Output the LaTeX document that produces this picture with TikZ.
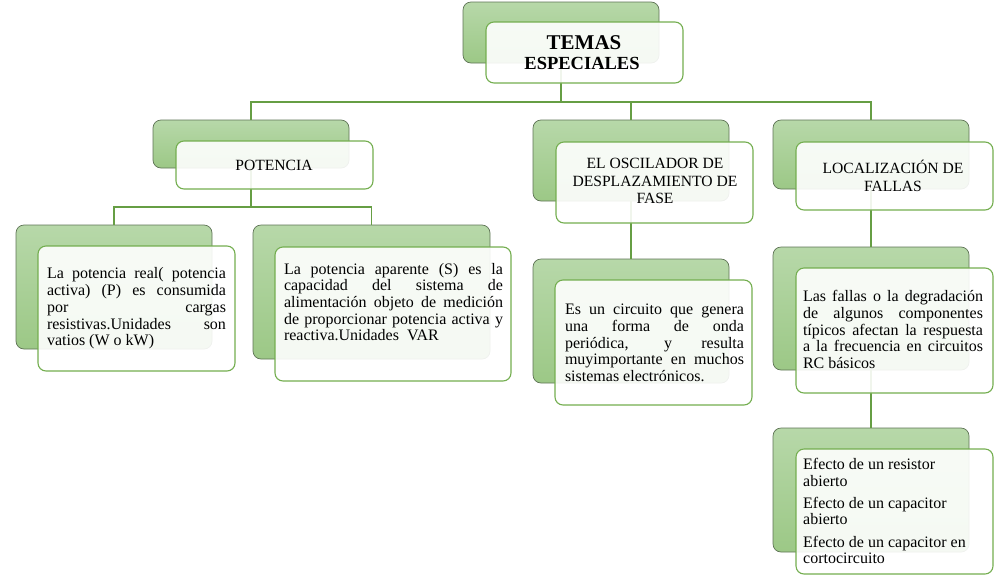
\documentclass[tikz,border=0pt]{standalone}
\usepackage{fontspec}
\setmainfont{Liberation Serif}
\usetikzlibrary{calc}
\definecolor{backtop}{HTML}{B7D8A9}
\definecolor{backbot}{HTML}{9CC886}
\definecolor{backline}{HTML}{5E7355}
\definecolor{frontline}{HTML}{74AE50}
\definecolor{connline}{HTML}{669E44}
\newcommand{\bodytextsetup}{\fontsize{16}{16.7}\selectfont\tolerance=10000\hbadness=10000\pretolerance=-1\hyphenpenalty=10000\exhyphenpenalty=10000}
\tikzset{
  backbox/.style={draw=backline, line width=0.7pt, rounded corners=8pt, top color=backtop, bottom color=backbot, inner sep=0pt, outer sep=0pt, anchor=north west},
  frontbox/.style={draw=frontline, line width=1.1pt, rounded corners=8pt, fill=white, fill opacity=0.9, inner sep=0pt, outer sep=0pt, anchor=north west},
  conn/.style={draw=connline, line width=1.1pt},
  bodytxt/.style={inner sep=0pt, align=justify, font=\bodytextsetup},
  headtxt/.style={inner sep=0pt, align=center, font=\fontsize{15.6}{17.3}\selectfont},
}
\begin{document}
\begin{tikzpicture}[x=1pt,y=-1pt]
\useasboundingbox (0,0) rectangle (1001,579);
% back boxes (nodes)
\node[backbox, minimum width=196pt, minimum height=61pt] (b0) at (463,2) {};
\node[backbox, minimum width=196pt, minimum height=48pt] (b1) at (153,120) {};
\node[backbox, minimum width=196pt, minimum height=124pt] (b11) at (16,225) {};
\node[backbox, minimum width=237pt, minimum height=134pt] (b12) at (253,225) {};
\node[backbox, minimum width=196pt, minimum height=81pt] (b2) at (533,120) {};
\node[backbox, minimum width=196pt, minimum height=124pt] (b21) at (533,259) {};
\node[backbox, minimum width=196pt, minimum height=69pt] (b3) at (773,120) {};
\node[backbox, minimum width=196pt, minimum height=123pt] (b31) at (773,247) {};
\node[backbox, minimum width=196pt, minimum height=124pt] (b32) at (773,428) {};
% connectors
\coordinate (j0) at (562,102);
\coordinate (j1) at (252,207);
\draw[conn] (b0.south) -- (b0.south |- j0);
\draw[conn] (b0.south |- j0) -| (b1.north);
\draw[conn] (b0.south |- j0) -| (b2.north);
\draw[conn] (b0.south |- j0) -| (b3.north);
\draw[conn] (b1.south) -- (b1.south |- j1);
\draw[conn] (b1.south |- j1) -| (b11.north);
\draw[conn] (b1.south |- j1) -| (b12.north);
\draw[conn] (b2.south) -- (b21.north);
\draw[conn] (b3.south) -- (b31.north);
\draw[conn] (b31.south) -- (b32.north);
% front boxes
\node[frontbox, minimum width=197pt, minimum height=61pt] (f0) at (486,22) {};
\node[frontbox, minimum width=197pt, minimum height=48pt] (f1) at (176,141) {};
\node[frontbox, minimum width=197pt, minimum height=125pt] (f11) at (38,246) {};
\node[frontbox, minimum width=236pt, minimum height=134pt] (f12) at (275,247) {};
\node[frontbox, minimum width=197pt, minimum height=81pt] (f2) at (556,142) {};
\node[frontbox, minimum width=197pt, minimum height=125pt] (f21) at (555,280) {};
\node[frontbox, minimum width=197pt, minimum height=68pt] (f3) at (796,142) {};
\node[frontbox, minimum width=197pt, minimum height=125pt] (f31) at (796,268) {};
\node[frontbox, minimum width=197pt, minimum height=125pt] (f32) at (796,449) {};
% texts
\node[inner sep=0pt, anchor=base, font=\bfseries\fontsize{21}{21}\selectfont] (t0a) at (584,49) {TEMAS};
\node[inner sep=0pt, anchor=base, font=\bfseries\fontsize{18.5}{18.5}\selectfont] (t0b) at (582,69) {ESPECIALES};
\node[headtxt] (t1) at (274,165) {POTENCIA};
\node[headtxt] (t2) at (655,181) {EL OSCILADOR DE\\DESPLAZAMIENTO DE\\FASE};
\node[headtxt] (t3) at (893,176) {LOCALIZACIÓN DE\\FALLAS};
\node[bodytxt, text width=179pt] (t11) at (136.5,308.5) {La potencia real( potencia\linebreak activa) (P) es consumida\linebreak por cargas\linebreak resistivas.Unidades son\linebreak vatios (W o kW)};
\node[bodytxt, text width=219pt] (t12) at (393.5,302) {La potencia aparente (S) es la\linebreak capacidad del sistema de\linebreak alimentación objeto de medición\linebreak de proporcionar potencia activa y\linebreak reactiva.Unidades\ \ VAR};
\node[bodytxt, text width=179pt] (t21) at (654.5,343) {Es un circuito que genera\linebreak una forma de onda\linebreak periódica, y resulta\linebreak muyimportante en muchos\linebreak sistemas electrónicos.};
\node[bodytxt, text width=180pt] (t31) at (893,329.5) {Las fallas o la degradación\linebreak de algunos componentes\linebreak típicos afectan la respuesta\linebreak a la frecuencia en circuitos\linebreak RC básicos};
\node[inner sep=0pt, align=left, font=\bodytextsetup, anchor=west] (t32) at (803,511) {Efecto de un resistor\\abierto\\[5.5pt]Efecto de un capacitor\\abierto\\[5.5pt]Efecto de un capacitor en\\cortocircuito};
\end{tikzpicture}
\end{document}
